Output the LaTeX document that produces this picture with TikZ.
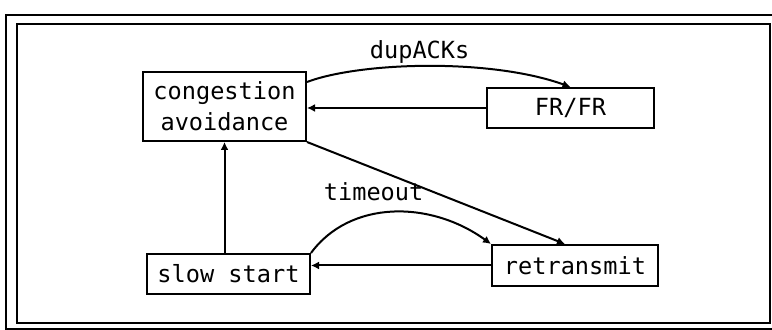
\documentclass[tikz,border=0pt]{standalone}
\usepackage{fontspec}
\newfontfamily\statefont{DejaVu Sans Mono}
\usetikzlibrary{arrows.meta,positioning,calc}
\tikzset{
  state/.style = {draw, line width=1pt, rectangle, inner sep=0pt,
                  align=center, font=\fontsize{11.8}{15.5}\statefont},
  lbl/.style   = {font=\fontsize{11.8}{15.5}\statefont, inner sep=1pt},
  sig/.style   = {-{Latex[length=4pt,width=4pt]}, line width=1pt},
  frame/.style = {line width=1.2pt},
}

\begin{document}
\begin{tikzpicture}[x=0.5pt,y=-0.5pt]
\useasboundingbox (0,0) rectangle (772,330);
% double frame
\draw[frame] (772,15) -- (6,15) -- (6,329) -- (772,329);
\draw[frame] (17,24) rectangle (770,323);
\node[state,minimum width=81.5pt,minimum height=34.5pt] (ca) at (224.5,106.5) {congestion\\avoidance};
\node[state,minimum width=83.5pt,minimum height=20pt] (fr) at (570.5,108) {FR/FR};
\node[state,minimum width=81.5pt,minimum height=20pt] (ss) at (228.5,274) {slow start};
\node[state,minimum width=83pt,minimum height=20.5pt] (rt) at (575,265.5) {retransmit};
\draw[sig] ([yshift=-5.5pt]ca.north east) .. controls (360,62) and (490,58) .. (fr.north)
  node[lbl,above,pos=0.47] {dupACKs};
\draw[sig] (fr.west) -- (fr.west -| ca.east);
\draw[sig] (ca.south east) -- ([xshift=-5pt]rt.north);
\draw[sig] (ss.north -| ca.south) -- (ca.south);
\draw[sig] (ss.north east) .. controls (350,200) and (430,200) .. (rt.north west)
  node[lbl,above=5pt,pos=0.4] {timeout};
\draw[sig] (rt.west) -- (rt.west -| ss.east);
\end{tikzpicture}
\end{document}
